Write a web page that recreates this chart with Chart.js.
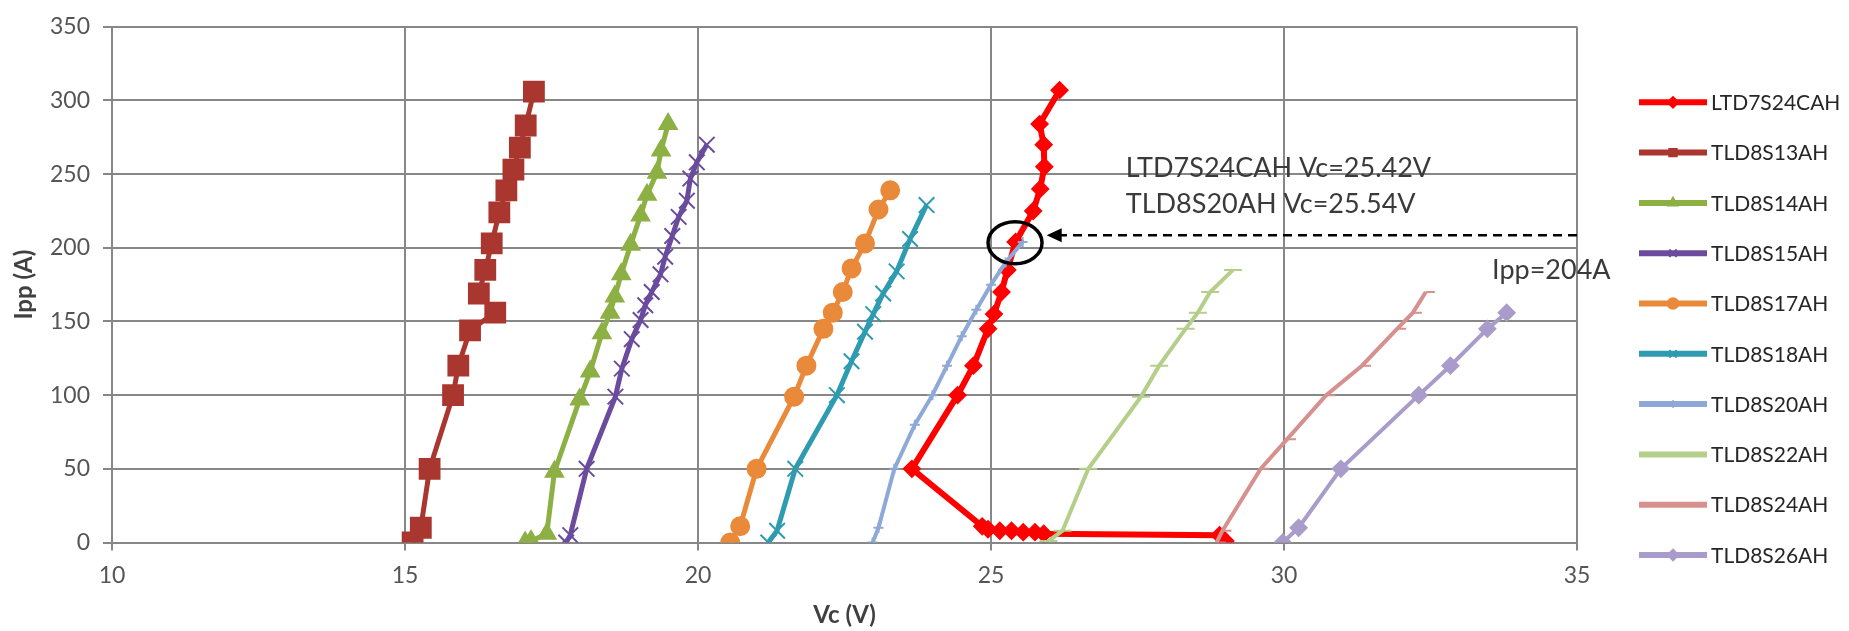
<!DOCTYPE html>
<html>
<head>
<meta charset="utf-8">
<script src="https://cdn.jsdelivr.net/npm/chart.js@4/dist/chart.umd.min.js"></script>
<style>
  html, body { margin: 0; padding: 0; background: #fff; }
  #contenedor { width: 1849px; height: 631px; }
</style>
</head>
<body>
<div id="contenedor"><canvas id="grafica" width="1849" height="631"></canvas></div>
<script>
// series (Vc en V, Ipp en A)
let nombresSeries = ["LTD7S24CAH", "TLD8S13AH", "TLD8S14AH", "TLD8S15AH", "TLD8S17AH",
  "TLD8S18AH", "TLD8S20AH", "TLD8S22AH", "TLD8S24AH", "TLD8S26AH"];

let vcLTD7S24CAH = [29.0, 28.9, 25.9, 25.75, 25.55, 25.35, 25.15, 24.95, 24.85, 23.65, 24.43, 24.7, 24.95, 25.05, 25.18, 25.28, 25.42, 25.72, 25.84, 25.91, 25.9, 25.83, 26.17];
let ippLTD7S24CAH = [1, 5, 6, 7, 7, 8, 8, 9, 11, 50, 100, 120, 145, 155, 170, 185, 204, 225, 240, 255, 270, 284, 307];

let vcTLD8S13AH = [15.13, 15.27, 15.42, 15.82, 15.91, 16.11, 16.54, 16.26, 16.37, 16.48, 16.61, 16.73, 16.85, 16.96, 17.06, 17.2];
let ippTLD8S13AH = [0, 10, 50, 100, 120, 144, 156, 169, 185, 203, 224, 239, 253, 268, 283, 306];

let vcTLD8S14AH = [17.05, 17.15, 17.42, 17.55, 17.98, 18.16, 18.36, 18.5, 18.58, 18.69, 18.85, 19.02, 19.13, 19.3, 19.37, 19.49];
let ippTLD8S14AH = [0, 1, 6, 48, 97, 116, 142, 156, 167, 182, 202, 222, 236, 251, 266, 284];

let vcTLD8S15AH = [17.75, 17.82, 18.1, 18.59, 18.7, 18.87, 19.02, 19.1, 19.21, 19.36, 19.44, 19.56, 19.67, 19.81, 19.87, 19.98, 20.15];
let ippTLD8S15AH = [0, 5, 50, 99, 118, 138, 151, 161, 170, 182, 194, 208, 221, 232, 247, 258, 270];

let vcTLD8S17AH = [20.55, 20.72, 21.0, 21.64, 21.85, 22.14, 22.3, 22.47, 22.62, 22.85, 23.08, 23.28];
let ippTLD8S17AH = [0, 11, 50, 99, 120, 145, 156, 170, 186, 203, 226, 239];

let vcTLD8S18AH = [21.2, 21.35, 21.66, 22.37, 22.62, 22.85, 22.99, 23.16, 23.39, 23.62, 23.9];
let ippTLD8S18AH = [0, 8, 50, 100, 123, 143, 155, 169, 184, 206, 229];

let vcTLD8S20AH = [22.98, 23.08, 23.35, 23.7, 24.0, 24.25, 24.5, 24.75, 25.0, 25.25, 25.54];
let ippTLD8S20AH = [0, 10, 50, 80, 100, 120, 140, 158, 175, 190, 204];

let vcTLD8S22AH = [25.98, 26.22, 26.66, 27.56, 27.87, 28.32, 28.53, 28.74, 29.13];
let ippTLD8S22AH = [1, 8, 50, 99, 120, 145, 156, 170, 185];

let vcTLD8S24AH = [28.85, 28.95, 29.6, 30.05, 30.72, 31.33, 31.93, 32.2, 32.42];
let ippTLD8S24AH = [0, 8, 50, 70, 100, 120, 145, 156, 170];

let vcTLD8S26AH = [29.98, 30.25, 30.97, 32.3, 32.84, 33.47, 33.8];
let ippTLD8S26AH = [0, 10, 50, 100, 120, 145, 156];

let ticksX = [10, 15, 20, 25, 30, 35];
let ticksY = [0, 50, 100, 150, 200, 250, 300, 350];

// anotacion
let textoAnotacion = ["LTD7S24CAH Vc=25.42V", "TLD8S20AH Vc=25.54V"];
let textoIpp = "Ipp=204A";
let circuloVc = 25.41, circuloIpp = 203.4;
let flechaIpp = 208.5, flechaDesde = 35, flechaHasta = 25.95;

// estilos
let colores = ["#ff0000", "#a9372f", "#8db045", "#6a4b9e", "#e9893a",
  "#2e9bb0", "#8ea9d8", "#b5cf8a", "#d6908e", "#a99ccb"];
let marcadores = ["rectRot", "rect", "triangle", "crossRot", "circle",
  "crossRot", "cross", "line", "dash", "rectRot"];
let radios = [8, 14, 10, 11, 9, 11, 5, 9, 9, 8];
let grosores = [6, 5, 5, 5, 5, 5, 4, 4, 4, 4];

let fuente = "Lato, 'Open Sans', sans-serif";
let colorGrid = "#878787";

function armarPuntos(vc, ipp) {
  let puntos = [];
  vc.forEach((v, i) => puntos.push({ x: v, y: ipp[i] }));
  return puntos;
}

let valoresVc = [vcLTD7S24CAH, vcTLD8S13AH, vcTLD8S14AH, vcTLD8S15AH, vcTLD8S17AH,
  vcTLD8S18AH, vcTLD8S20AH, vcTLD8S22AH, vcTLD8S24AH, vcTLD8S26AH];
let valoresIpp = [ippLTD7S24CAH, ippTLD8S13AH, ippTLD8S14AH, ippTLD8S15AH, ippTLD8S17AH,
  ippTLD8S18AH, ippTLD8S20AH, ippTLD8S22AH, ippTLD8S24AH, ippTLD8S26AH];

let datasets = nombresSeries.map((nombre, i) => ({
  label: nombre,
  data: armarPuntos(valoresVc[i], valoresIpp[i]),
  showLine: true,
  fill: false,
  tension: 0,
  borderColor: colores[i],
  backgroundColor: colores[i],
  borderWidth: grosores[i],
  pointStyle: marcadores[i],
  pointRadius: radios[i],
  pointBorderWidth: 2,
  pointBorderColor: colores[i],
  pointBackgroundColor: colores[i],
  order: nombresSeries.length - i,
}));

function dibujarMarcador(ctx, estilo, radio, x, y) {
  if (Chart.helpers && Chart.helpers.drawPoint) {
    Chart.helpers.drawPoint(ctx, { pointStyle: estilo, radius: radio, rotation: 0, borderWidth: 2 }, x, y);
  } else {
    ctx.beginPath();
    ctx.arc(x, y, radio, 0, Math.PI * 2);
    ctx.fill();
  }
}

// leyenda y anotaciones
const extras = {
  id: "extras",
  afterDatasetsDraw(chart) {
    const ctx = chart.ctx;
    const ex = chart.scales.x;
    const ey = chart.scales.y;
    ctx.save();
    ctx.strokeStyle = "#000";
    ctx.fillStyle = "#000";
    ctx.lineWidth = 3.5;
    ctx.beginPath();
    ctx.ellipse(ex.getPixelForValue(circuloVc), ey.getPixelForValue(circuloIpp), 27, 21, 0, 0, Math.PI * 2);
    ctx.stroke();

    let ya = ey.getPixelForValue(flechaIpp);
    let x0 = ex.getPixelForValue(flechaDesde);
    let x1 = ex.getPixelForValue(flechaHasta);
    ctx.lineWidth = 2.5;
    ctx.setLineDash([9, 6]);
    ctx.beginPath();
    ctx.moveTo(x0, ya);
    ctx.lineTo(x1 + 14, ya);
    ctx.stroke();
    ctx.setLineDash([]);
    ctx.beginPath();
    ctx.moveTo(x1, ya);
    ctx.lineTo(x1 + 15, ya - 7);
    ctx.lineTo(x1 + 15, ya + 7);
    ctx.closePath();
    ctx.fill();

    ctx.font = "27px " + fuente;
    ctx.fillStyle = "#3a3a3a";
    ctx.textAlign = "left";
    ctx.textBaseline = "middle";
    ctx.fillText(textoAnotacion[0], ex.getPixelForValue(27.3), ey.getPixelForValue(254));
    ctx.fillText(textoAnotacion[1], ex.getPixelForValue(27.3), ey.getPixelForValue(229.5));
    ctx.fillText(textoIpp, ex.getPixelForValue(33.55), ey.getPixelForValue(185));
    ctx.restore();
  },
  afterDraw(chart) {
    const ctx = chart.ctx;
    ctx.save();
    nombresSeries.forEach((nombre, i) => {
      let y = 102.3 + i * 50.3;
      ctx.strokeStyle = colores[i];
      ctx.fillStyle = colores[i];
      ctx.lineWidth = 6;
      ctx.beginPath();
      ctx.moveTo(1639, y);
      ctx.lineTo(1707, y);
      ctx.stroke();
      ctx.lineWidth = 2;
      dibujarMarcador(ctx, marcadores[i], Math.min(radios[i], 7) * 0.75, 1673, y);
      ctx.fillStyle = "#262626";
      ctx.font = "21px " + fuente;
      ctx.textAlign = "left";
      ctx.textBaseline = "middle";
      ctx.fillText(nombre, 1711, y + 1);
    });
    ctx.restore();
  },
};

let ctxGrafica = document.getElementById("grafica").getContext("2d");
let grafica = new Chart(ctxGrafica, {
  type: "scatter",
  data: { datasets: datasets },
  plugins: [extras],
  options: {
    responsive: false,
    animation: false,
    layout: { padding: { left: 0, top: 23, right: 272, bottom: 0 } },
    plugins: { legend: { display: false }, tooltip: { enabled: false } },
    scales: {
      x: {
        type: "linear",
        min: 10,
        max: 35,
        afterBuildTicks: (eje) => { eje.ticks = ticksX.map((v) => ({ value: v })); },
        afterFit: (eje) => { eje.height = 88.5; },
        grid: { color: colorGrid, lineWidth: 2, tickLength: 8 },
        border: { color: colorGrid, width: 2 },
        ticks: { color: "#555555", font: { family: fuente, size: 23 }, padding: 11 },
        title: { display: true, text: "Vc (V)", color: "#404040", font: { family: fuente, size: 24, weight: "bold" }, padding: { top: 0, bottom: 1 } },
      },
      y: {
        type: "linear",
        min: 0,
        max: 350,
        afterBuildTicks: (eje) => { eje.ticks = ticksY.map((v) => ({ value: v })); },
        afterFit: (eje) => { eje.width = 112; },
        grid: { color: colorGrid, lineWidth: 2, tickLength: 9 },
        border: { color: colorGrid, width: 2 },
        ticks: { color: "#555555", font: { family: fuente, size: 23 }, padding: 13 },
        title: { display: true, text: "Ipp (A)", color: "#404040", font: { family: fuente, size: 24, weight: "bold" }, padding: { top: 10, bottom: 0 } },
      },
    },
  },
});
</script>
</body>
</html>
